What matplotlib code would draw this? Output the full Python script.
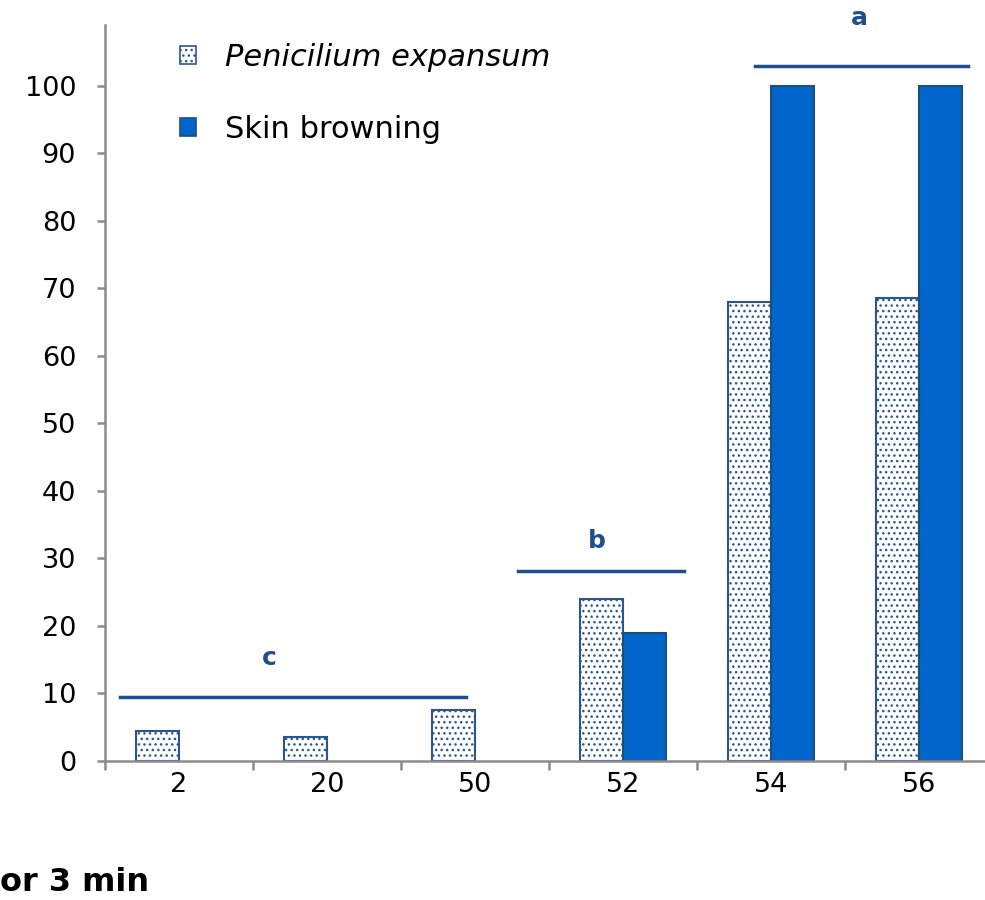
import numpy as np
import matplotlib.pyplot as plt
from matplotlib.patches import Patch

# hot water temperature (°C) and incidence (%)
temperatures = ["2", "20", "50", "52", "54", "56"]
penicillium = [4.4, 3.5, 7.5, 24.0, 68.0, 68.5]
browning = [0, 0, 0, 19.0, 100, 100]

# significance groups: letter, line start/end (category units), line level, letter level
groups = [("c", -0.40, 1.94, 9.5, 15.3),
          ("b", 2.29, 3.41, 28.1, 32.6),
          ("a", 3.89, 5.33, 103.0, 110.0)]
letter_x = [0.61, 2.82, 4.60]

plt.rcParams['font.family'] = ['DejaVu Sans']
plt.rcParams['hatch.color'] = '#2a5590'
plt.rcParams['hatch.linewidth'] = 1.0

axis_grey = '#8c8c8c'
dark_blue = '#1f4e8c'

fig = plt.figure(figsize=(9.85, 9.0), dpi=100)
ax = fig.add_axes([105 / 985, 139 / 900, 888 / 985, 736 / 900])

x = np.arange(len(temperatures))
w = 0.29
ax.bar(x - w / 2, penicillium, w, color='white', edgecolor='#2a5590',
       hatch='...', linewidth=1.5, zorder=2)
bars = ax.bar(x + w / 2, browning, w, color='#0066cc', edgecolor='#1f4e79',
              linewidth=1.5, zorder=2)
for b, v in zip(bars, browning):
    if v == 0:
        b.set_visible(False)

# lines over the grouped bars with their letters
for (letter, x0, x1, h, th), lx in zip(groups, letter_x):
    ax.plot([x0, x1], [h, h], color=dark_blue, linewidth=2.5, zorder=3)
    ax.text(lx, th, letter, color=dark_blue, fontsize=18,
            fontweight='bold', ha='center', va='center')

ax.set_xlim(-0.5, len(temperatures) - 0.5)
ax.set_ylim(0, 109)
ax.set_yticks(np.arange(0, 101, 10))
ax.set_xticks(x)
ax.set_xticklabels(temperatures)
ax.set_xticks(np.arange(-0.5, len(temperatures), 1), minor=True)

for side in ['top', 'right']:
    ax.spines[side].set_visible(False)
for side in ['left', 'bottom']:
    ax.spines[side].set_color(axis_grey)
    ax.spines[side].set_linewidth(1.8)

ax.tick_params(axis='y', length=5.8, width=1.8, color=axis_grey,
               labelsize=19.5, pad=15)
ax.tick_params(axis='x', which='major', length=0, labelsize=19.5, pad=8)
ax.tick_params(axis='x', which='minor', length=6.5, width=1.8, color=axis_grey)

handles = [Patch(facecolor='white', edgecolor='#2a5590', hatch='...',
                 linewidth=1.2),
           Patch(facecolor='#0066cc', edgecolor='#1f4e79', linewidth=1.2)]
leg = ax.legend(handles, ['Penicilium expansum', 'Skin browning'],
                loc='upper left', bbox_to_anchor=(0.0845, 0.9755), frameon=False,
                fontsize=22, handlelength=0.52, handleheight=0.52,
                handletextpad=0.95, labelspacing=1.4,
                borderpad=0, borderaxespad=0)
leg.get_texts()[0].set_fontstyle('italic')

fig.text(0, 9 / 900, "or 3 min", fontsize=23,
         fontweight='bold', ha='left', va='baseline')

fig.savefig('out.png', dpi=100)
